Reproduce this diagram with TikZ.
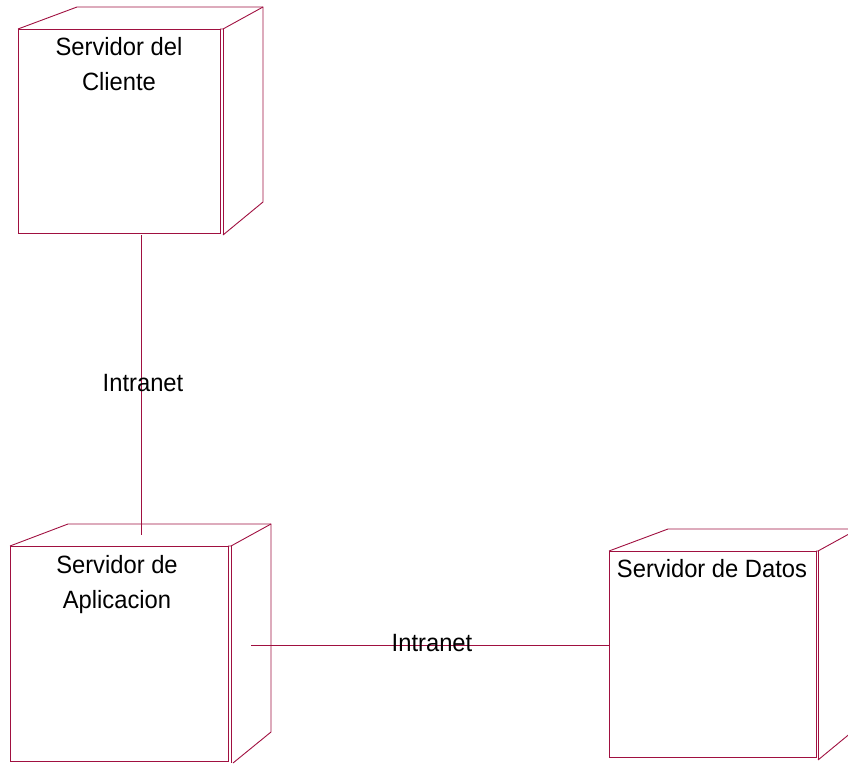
\documentclass[tikz,border=0pt]{standalone}
\usepackage{fontspec}
\setmainfont{Liberation Sans}[FakeStretch=0.95]
\usetikzlibrary{positioning,calc}
\definecolor{rosewine}{RGB}{160,16,64}
\tikzset{
  srv/.style={rectangle, draw=rosewine, line width=0.9pt, inner sep=0pt, outer sep=0pt},
  depth/.style={draw=rosewine, line width=0.9pt, line join=miter},
  lbl/.style={font=\fontsize{25}{35}\selectfont, text=black, align=center, inner sep=0pt},
  link/.style={draw=rosewine, line width=0.9pt},
}
\begin{document}
\begin{tikzpicture}[x=1pt,y=-1pt]
\useasboundingbox (0,0) rectangle (848,763);
\clip (0,0) rectangle (848,763);
% front faces of the three nodes
\node[srv, minimum width=202pt, minimum height=204pt] (cliente) at (119,131) {};
\node[srv, minimum width=218pt, minimum height=215pt] (aplic) at (119,653.5) {};
\node[srv, minimum width=207pt, minimum height=206pt] (datos) at (712.5,654) {};
% top and side faces
\draw[depth] (cliente.north west) -- (77,7) -- (263,7) -- (263,202) -- (223,235);
\draw[depth] (cliente.north east) -- (223,29) -- (263,7);
\draw[depth] (223,29) -- (223,235);
\draw[depth] (aplic.north west) -- (68,524) -- (271,524) -- (271,732) -- (233,763);
\draw[depth] (aplic.north east) -- (231,546) -- (271,524);
\draw[depth] (231,546) -- (231,763);
\draw[depth] (datos.north west) -- (668,529) -- (858,529) -- (858,727) -- (818,760);
\draw[depth] (datos.north east) -- (818,551) -- (858,529);
\draw[depth] (818,551) -- (818,760);
% names
\node[lbl, anchor=north] (clientetxt) at (119,37) {Servidor del\\Cliente};
\node[lbl, anchor=north] (aplictxt) at (117,555) {Servidor de\\Aplicacion};
\node[lbl, anchor=north] (datostxt) at (712,559) {Servidor de Datos};
% links
\coordinate (c1) at (141,235);
\coordinate (c2) at (141,535);
\draw[link] (c1) -- (c2);
\node[lbl] (net1) at (143,383) {Intranet};
\coordinate (a1) at (251,645);
\draw[link] (a1) -- (a1 -| datos.west);
\node[lbl] (net2) at (432,643) {Intranet};
\end{tikzpicture}
\end{document}
